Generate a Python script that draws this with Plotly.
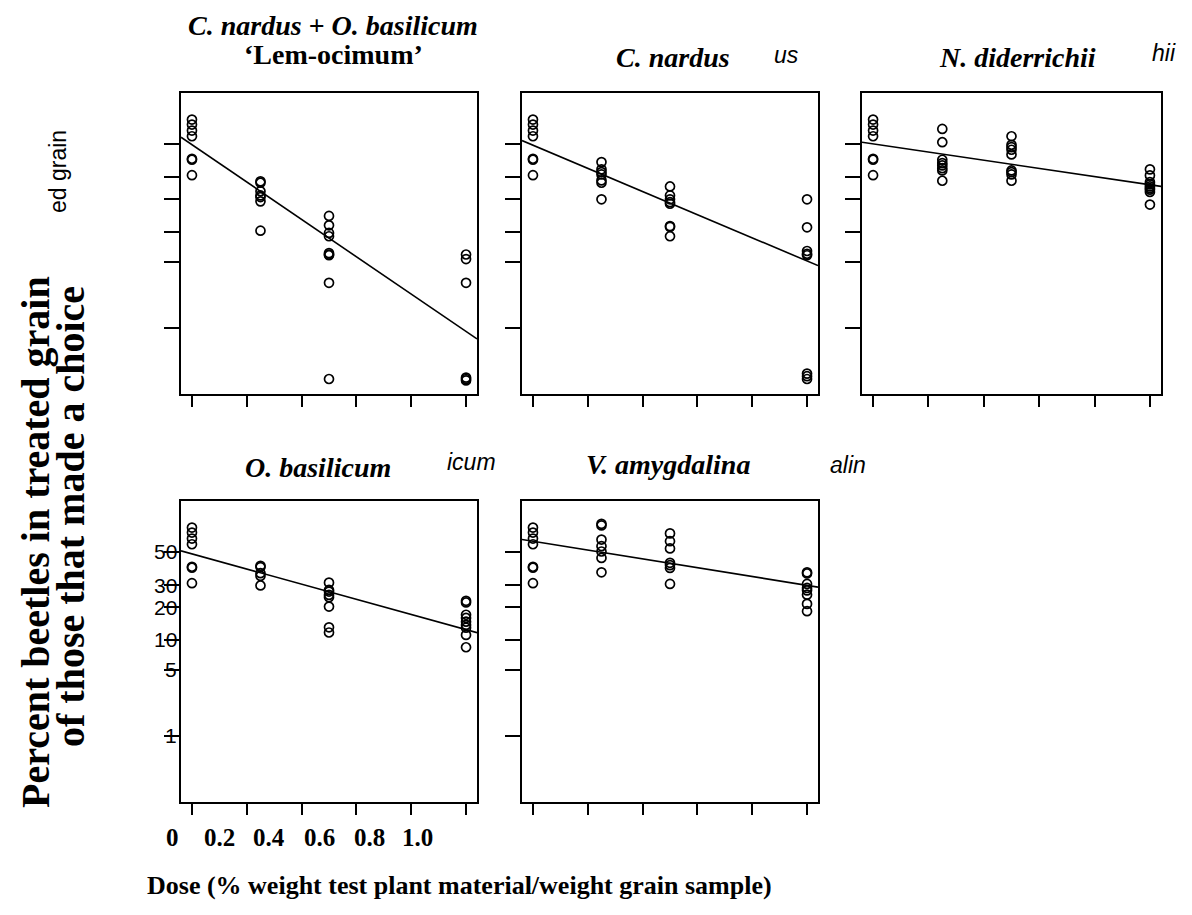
import numpy as np
import plotly.graph_objects as go

W, H = 1192, 915

# ---------------- data (percent beetles in treated grain) ----------------
doses = [0.0, 0.25, 0.5, 1.0]
panel_titles = ["<i>C. nardus + O. basilicum</i>", "<i>C. nardus</i>",
                "<i>N. diderrichii</i>", "<i>O. basilicum</i>", "<i>V. amygdalina</i>"]
subtitle = "‘Lem-ocimum’"

control = [64.5, 61.6, 58.0, 54.5, 40.6, 40.0, 31.2]

lem_025 = [28.0, 27.3, 23.3, 21.5, 20.8, 19.1, 10.2]
lem_050 = [14.1, 11.5, 9.7, 9.0, 6.1, 5.9, 5.8, 3.0, 0.28]
lem_100 = [5.9, 5.3, 3.0, 0.29, 0.28, 0.27]

nard_025 = [38.6, 34.4, 32.9, 31.6, 28.5, 27.3, 19.9]
nard_050 = [25.5, 21.5, 19.9, 18.8, 18.2, 11.3, 11.1, 9.0]
nard_100 = [19.9, 11.0, 6.4, 6.0, 5.8, 0.32, 0.30, 0.28]

did_025 = [59.0, 50.8, 40.0, 38.0, 36.7, 35.1, 33.8, 28.3]
did_050 = [54.5, 49.2, 47.7, 46.1, 43.2, 33.8, 32.9, 31.6, 28.3]
did_100 = [34.4, 31.1, 27.6, 26.5, 25.5, 24.7, 24.0, 23.0, 17.9]

bas_025 = [41.2, 40.4, 36.8, 35.2, 30.0]
bas_050 = [31.5, 27.7, 26.9, 25.3, 24.2, 20.2, 13.1, 11.7]
bas_100 = [22.6, 21.9, 17.1, 16.0, 14.8, 13.8, 13.0, 11.1, 8.4]

amy_025 = [66.6, 65.7, 57.4, 53.3, 50.0, 46.0, 37.3]
amy_050 = [61.1, 56.4, 51.9, 43.0, 41.6, 39.9, 30.8]
amy_100 = [37.3, 36.6, 30.8, 28.7, 27.5, 25.4, 21.3, 18.4]

# fitted lines on the logit scale
fit_intercepts = [-0.03, -0.041, -0.009, -0.059, 0.256]
fit_slopes = [-4.66, -2.89, -1.02, -1.89, -1.10]

y_tick_values = [1, 5, 10, 20, 30, 50]
x_tick_values = [0, 0.2, 0.4, 0.6, 0.8, 1.0]
x_tick_labels = ["0", "0.2", "0.4", "0.6", "0.8", "1.0"]

panels = [
    [control, lem_025, lem_050, lem_100],
    [control, nard_025, nard_050, nard_100],
    [control, did_025, did_050, did_100],
    [control, bas_025, bas_050, bas_100],
    [control, amy_025, amy_050, amy_100],
]

# ---------------- layout constants ----------------
x_range = [-0.04, 1.04]
y_range = [-6.25, 1.26]
col_px = [(181, 477), (522, 818), (862, 1161)]
row_px = [(93, 394), (501, 802)]
cells = [(0, 0), (0, 1), (0, 2), (1, 0), (1, 1)]
OFF = 8  # page body margin

SERIF = "Liberation Serif"
SANS = "Liberation Sans"


def logit(p):
    p = np.asarray(p, dtype=float) / 100.0
    return np.log(p / (1 - p))


def px(x):
    return (x - OFF) / W


def py(y):
    return 1 - (y - OFF) / H


fig = go.Figure()
annotations = []

for i, (groups, (r, c)) in enumerate(zip(panels, cells)):
    n = i + 1
    xa = "x" if n == 1 else f"x{n}"
    ya = "y" if n == 1 else f"y{n}"
    xs, ys = [], []
    for d, vals in zip(doses, groups):
        xs += [d] * len(vals)
        ys += list(logit(vals))
    fig.add_trace(go.Scatter(
        x=xs, y=ys, mode="markers", xaxis=xa, yaxis=ya, showlegend=False,
        marker=dict(symbol="circle-open", size=9, color="black", line=dict(width=1.7, color="black")),
    ))
    lx = np.array(x_range)
    fig.add_trace(go.Scatter(
        x=lx, y=fit_intercepts[i] + fit_slopes[i] * lx, mode="lines", xaxis=xa, yaxis=ya,
        showlegend=False, line=dict(color="black", width=1.6), cliponaxis=True,
    ))
    axk = "xaxis" if n == 1 else f"xaxis{n}"
    ayk = "yaxis" if n == 1 else f"yaxis{n}"
    x0, x1 = col_px[c]
    y0, y1 = row_px[r]
    fig.layout[axk] = dict(
        domain=[px(x0), px(x1)], range=x_range, anchor=ya,
        showline=True, mirror=True, linewidth=2, linecolor="black",
        ticks="outside", ticklen=11, tickwidth=2, tickcolor="black",
        tickvals=x_tick_values, showticklabels=False, showgrid=False, zeroline=False,
    )
    fig.layout[ayk] = dict(
        domain=[py(y1), py(y0)], range=y_range, anchor=xa,
        showline=True, mirror=True, linewidth=2, linecolor="black",
        ticks="outside", ticklen=15, tickwidth=2, tickcolor="black",
        tickvals=list(logit(y_tick_values)), showticklabels=False, showgrid=False, zeroline=False,
    )

# panel titles
title_pos = [(333, 26), (673, 57), (1017, 57), (318, 467), (668, 465)]
for t, (x, y) in zip(panel_titles, title_pos):
    annotations.append(dict(text=f"<b>{t}</b>", x=px(x), y=py(y), xref="paper", yref="paper",
                            xanchor="center", yanchor="middle", showarrow=False,
                            font=dict(family=SERIF, size=28, color="black")))
annotations.append(dict(text=f"<b>{subtitle}</b>", x=px(333), y=py(55), xref="paper", yref="paper",
                        xanchor="center", yanchor="middle", showarrow=False,
                        font=dict(family=SERIF, size=28, color="black")))

# stray italic fragments
frag = [("us", 786, 55), ("hii", 1164, 53), ("icum", 471, 462), ("alin", 848, 465)]
for t, x, y in frag:
    annotations.append(dict(text=f"<i>{t}</i>", x=px(x), y=py(y), xref="paper", yref="paper",
                            xanchor="center", yanchor="middle", showarrow=False,
                            font=dict(family=SANS, size=23, color="black")))
annotations.append(dict(text="ed grain", x=px(58), y=py(172), xref="paper", yref="paper",
                        textangle=-90, xanchor="center", yanchor="middle", showarrow=False,
                        font=dict(family=SANS, size=23, color="black")))

# y tick labels of the O. basilicum panel
for v in y_tick_values:
    annotations.append(dict(text=str(v), x=px(179), y=float(logit([v])[0]), xref="paper", yref="y4",
                            xanchor="right", yanchor="middle", showarrow=False,
                            font=dict(family=SANS, size=21, color="black")))

# x tick labels below the O. basilicum panel
xlab_px = [172, 219, 269, 319, 369, 418]
for t, x in zip(x_tick_labels, xlab_px):
    annotations.append(dict(text=f"<b>{t}</b>", x=px(x), y=py(837), xref="paper", yref="paper",
                            xanchor="center", yanchor="middle", showarrow=False,
                            font=dict(family=SERIF, size=25, color="black")))

# axis titles
annotations.append(dict(text="<b>Percent beetles in treated grain</b>", x=px(35), y=py(542),
                        xref="paper", yref="paper", textangle=-90, xanchor="center", yanchor="middle",
                        showarrow=False, font=dict(family=SERIF, size=40, color="black")))
annotations.append(dict(text="<b>of those that made a choice</b>", x=px(70), y=py(517),
                        xref="paper", yref="paper", textangle=-90, xanchor="center", yanchor="middle",
                        showarrow=False, font=dict(family=SERIF, size=40, color="black")))
annotations.append(dict(text="<b>Dose (% weight test plant material/weight grain sample)</b>",
                        x=px(459), y=py(885), xref="paper", yref="paper", xanchor="center",
                        yanchor="middle", showarrow=False, font=dict(family=SERIF, size=26, color="black")))

fig.update_layout(
    width=W, height=H, margin=dict(l=0, r=0, t=0, b=0),
    paper_bgcolor="white", plot_bgcolor="white",
    annotations=annotations,
)

fig.write_html("out.html")
